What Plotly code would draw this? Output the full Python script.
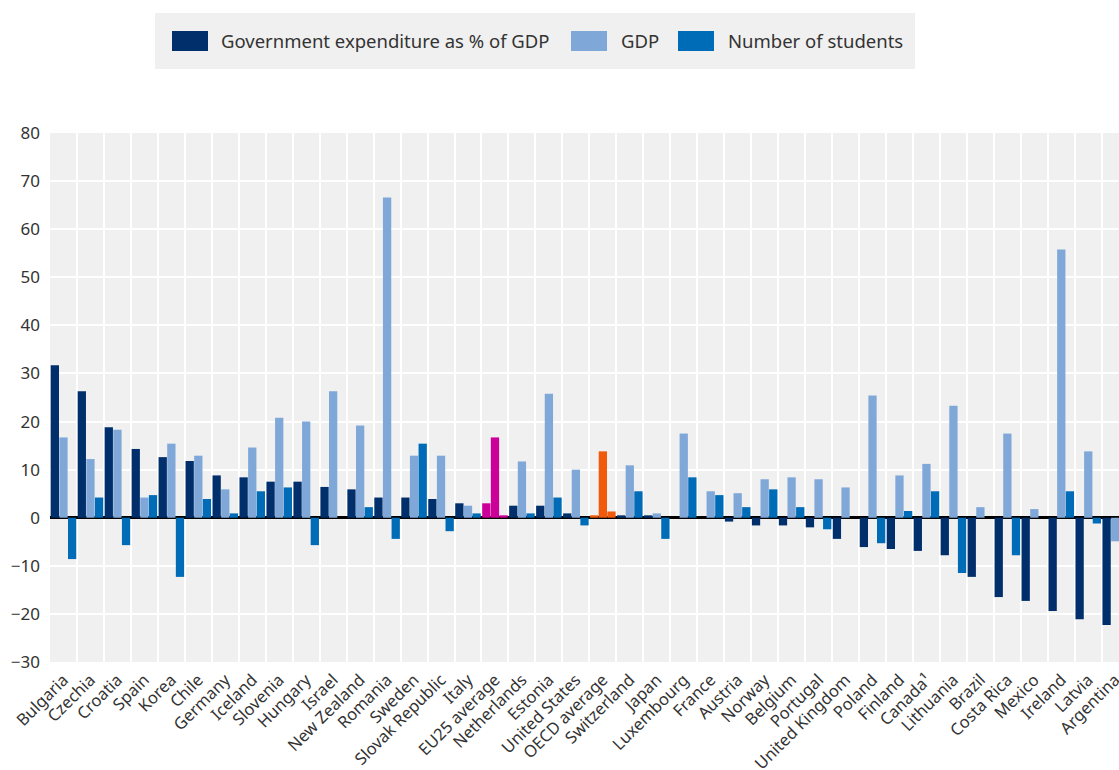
import plotly.graph_objects as go

countries = ["Bulgaria", "Czechia", "Croatia", "Spain", "Korea", "Chile", "Germany", "Iceland",
             "Slovenia", "Hungary", "Israel", "New Zealand", "Romania", "Sweden", "Slovak Republic",
             "Italy", "EU25 average", "Netherlands", "Estonia", "United States", "OECD average",
             "Switzerland", "Japan", "Luxembourg", "France", "Austria", "Norway", "Belgium",
             "Portugal", "United Kingdom", "Poland", "Finland", "Canada¹", "Lithuania", "Brazil",
             "Costa Rica", "Mexico", "Ireland", "Latvia", "Argentina"]

gov_exp = [31.7, 26.3, 18.8, 14.3, 12.6, 11.8, 8.8, 8.4,
           7.5, 7.5, 6.4, 5.9, 4.2, 4.2, 3.9,
           3.0, 3.0, 2.5, 2.5, 0.9, 0.5,
           0.5, 0.5, 0.0, 0.0, -0.8, -1.6, -1.6,
           -2.0, -4.4, -6.1, -6.5, -6.9, -7.8, -12.3,
           -16.5, -17.3, -19.4, -21.1, -22.3]

gdp = [16.7, 12.2, 18.3, 4.2, 15.4, 12.9, 5.9, 14.6,
       20.8, 20.0, 26.3, 19.2, 66.6, 12.9, 12.9,
       2.5, 16.7, 11.7, 25.8, 10.0, 13.8,
       10.9, 0.9, 17.5, 5.5, 5.1, 8.0, 8.4,
       8.0, 6.3, 25.4, 8.8, 11.2, 23.3, 2.2,
       17.5, 1.8, 55.8, 13.8, -4.9]

students = [-8.6, 4.2, -5.7, 4.7, -12.3, 3.9, 0.9, 5.5,
            6.3, -5.7, 0.0, 2.2, -4.4, 15.4, -2.8,
            0.9, 0.5, 0.9, 4.2, -1.6, 1.3,
            5.5, -4.4, 8.4, 4.7, 2.2, 5.9, 2.2,
            -2.4, 0.0, -5.3, 1.4, 5.5, -11.5, 0.0,
            -7.8, 0.0, 5.5, -1.2, 0.0]

series_names = ["Government expenditure as % of GDP", "GDP", "Number of students"]
series_colors = ["#002F6C", "#7FA8D9", "#006BB6"]
highlight = {"EU25 average": "#CC0099", "OECD average": "#F05A0A"}

W, H = 1119, 770
ML, MR, MT, MB = 50, 0, 133, 108
PW, PH = W - ML - MR, H - MT - MB


def px_x(p):
    return (p - ML) / PW


def px_y(p):
    return (H - MB - p) / PH


fig = go.Figure()
for name, vals, col in zip(series_names, [gov_exp, gdp, students], series_colors):
    colors = [highlight.get(c, col) for c in countries]
    fig.add_trace(go.Bar(
        x=countries, y=vals, name=name,
        marker=dict(color=colors, line=dict(width=0)),
        showlegend=False,
    ))

# custom legend (large swatches like the reference)
shapes = [dict(type="rect", xref="paper", yref="paper",
               x0=px_x(155), x1=px_x(915), y0=px_y(69), y1=px_y(13),
               fillcolor="#F0F0F0", line=dict(width=0), layer="below")]
annotations = []
swatch_x = [172, 571, 678]
text_x = [219, 619, 726]
for name, col, sx, tx in zip(series_names, series_colors, swatch_x, text_x):
    shapes.append(dict(type="rect", xref="paper", yref="paper",
                       x0=px_x(sx), x1=px_x(sx + 36), y0=px_y(51), y1=px_y(31),
                       fillcolor=col, line=dict(width=0)))
    annotations.append(dict(xref="paper", yref="paper", x=px_x(tx), y=px_y(41),
                            xanchor="left", yanchor="middle", showarrow=False,
                            text=name, font=dict(size=18.5, color="#333333")))

fig.update_layout(
    width=W, height=H,
    margin=dict(l=ML, r=MR, t=MT, b=MB, autoexpand=False),
    paper_bgcolor="white",
    plot_bgcolor="#F0F0F0",
    barmode="group",
    bargap=0.04,
    bargroupgap=0.04,
    font=dict(family="Noto Sans, Open Sans, sans-serif", color="#333333", size=15),
    shapes=shapes,
    annotations=annotations,
    showlegend=False,
)

fig.update_xaxes(
    type="category",
    range=[-0.5, 39.14],
    showgrid=True, gridcolor="white", gridwidth=2,
    tickson="boundaries", ticks="",
    tickangle=-45,
    tickfont=dict(size=16.5, color="#333333"),
    ticklabelstandoff=4,
    showline=False,
    automargin=False,
)
fig.update_yaxes(
    range=[-30, 80],
    tickvals=[-30, -20, -10, 0, 10, 20, 30, 40, 50, 60, 70, 80],
    showgrid=True, gridcolor="white", gridwidth=2,
    zeroline=True, zerolinecolor="black", zerolinewidth=2.5,
    tickfont=dict(size=17, color="#333333"),
    ticks="",
    ticklabelstandoff=9,
    automargin=False,
)

fig.write_html("out.html", config={"displayModeBar": False},
               post_script="document.body.style.margin='0';")
